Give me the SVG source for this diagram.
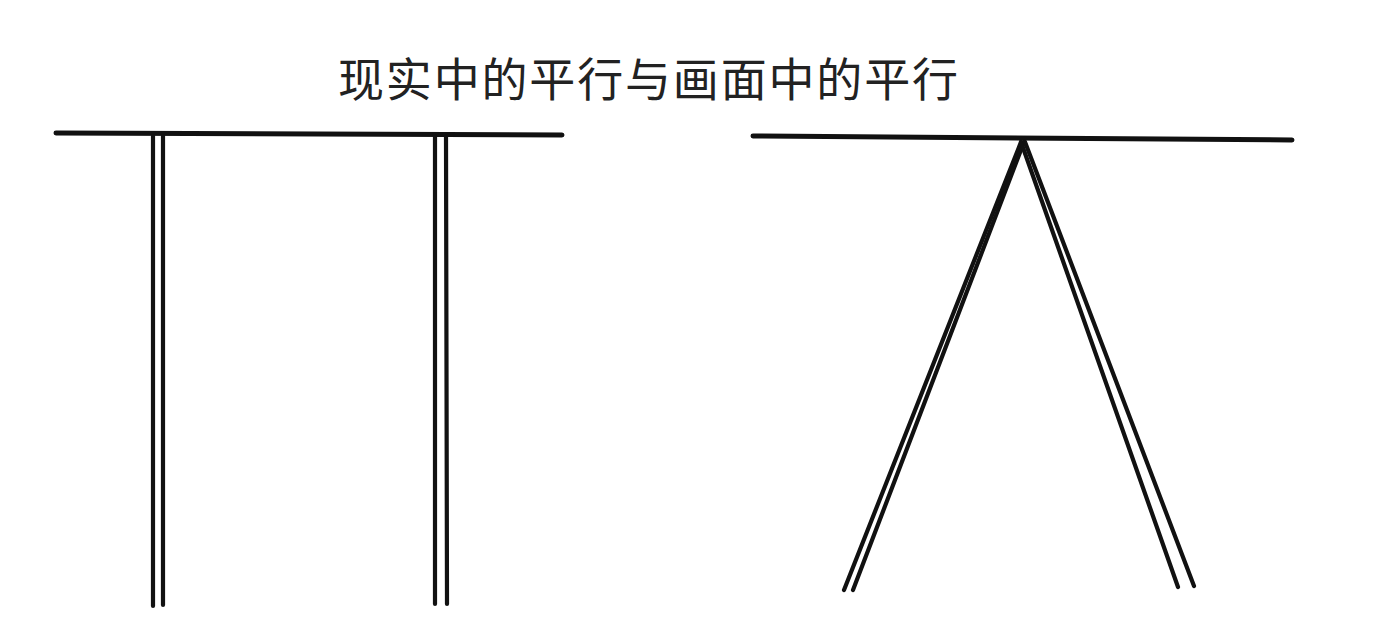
<svg xmlns="http://www.w3.org/2000/svg" width="1374" height="624" viewBox="0 0 1374 624">
<style>
.ln{stroke:#111;stroke-width:4.2;stroke-linecap:round;fill:none}
.bar{stroke:#111;stroke-width:5;stroke-linecap:round;fill:none}
.title{font-family:"Noto Sans CJK SC","Noto Sans CJK JP",sans-serif;font-size:46px;font-weight:400;fill:#222}
</style>
<rect width="1374" height="624" fill="#fff"/>
<text class="title" x="338" y="96" textLength="620" lengthAdjust="spacing">现实中的平行与画面中的平行</text>
<g id="real">
<path class="bar" d="M56,133 L562,135"/>
<path class="ln" d="M153,136 L153,606"/>
<path class="ln" d="M163,136 L163,605"/>
<path class="ln" d="M435,136 L435,604"/>
<path class="ln" d="M446,136 L447,604"/>
</g>
<g id="picture">
<path class="bar" d="M753,136 L1292,140"/>
<path class="ln" d="M1021,142 L844,590"/>
<path class="ln" d="M1024,142 L853,590"/>
<path class="ln" d="M1021,142 L1178,587"/>
<path class="ln" d="M1025,142 L1194,586"/>
</g>
</svg>
